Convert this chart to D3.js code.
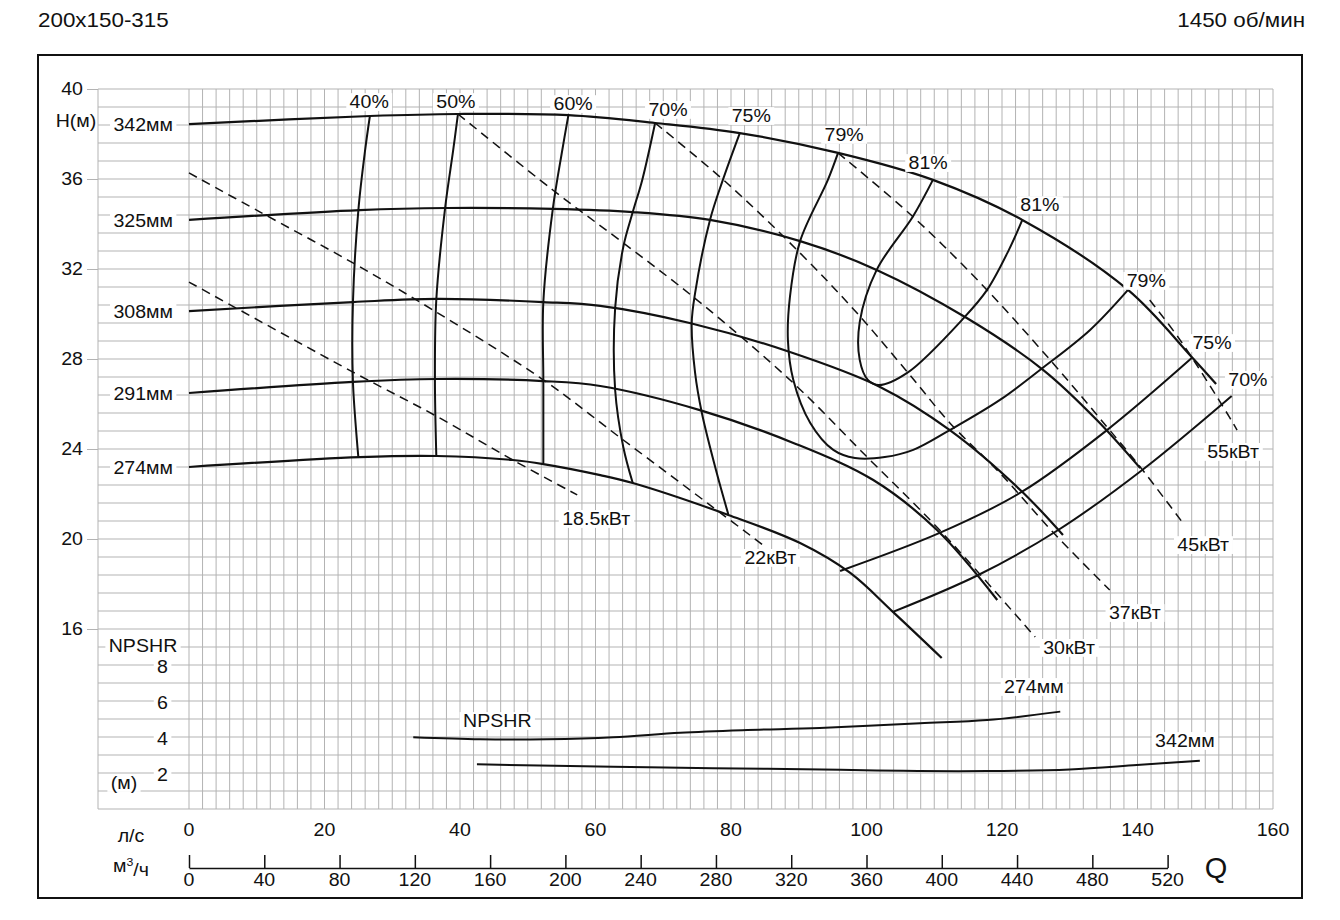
<!DOCTYPE html>
<html>
<head>
<meta charset="utf-8">
<script src="https://cdn.jsdelivr.net/npm/d3@7"></script>
<style>
  body { margin: 0; background: #fff; }
  text { font-family: "Liberation Sans", Arial, sans-serif; fill: #111; }
</style>
</head>
<body>
<script>
// axis ticks
const qTicks = [0, 20, 40, 60, 80, 100, 120, 140, 160];      // л/с
const m3hTicks = [0, 40, 80, 120, 160, 200, 240, 280, 320, 360, 400, 440, 480, 520];
const hTicks = [16, 20, 24, 28, 32, 36, 40];
const npshTicks = [2, 4, 6, 8];

// H-Q curves, [Q л/с, H м]
const hq342 = [[0,38.44],[26.7,38.80],[39.7,38.89],[56.0,38.84],[68.8,38.49],[81.3,38.04],[95.8,37.16],[109.8,35.96],[123.0,34.18],[138.6,31.07],[148.0,28.09],[151.6,26.89]];
const hq325 = [[0,34.18],[25.2,34.62],[38.1,34.71],[53.7,34.67],[65.5,34.53],[76.9,34.18],[90.2,33.24],[101.5,31.96],[114.8,29.82],[126.1,27.51],[134.0,25.29],[140.4,23.15]];
const hq308 = [[0,30.13],[24.2,30.53],[36.6,30.67],[52.3,30.53],[60.7,30.36],[73.9,29.60],[88.7,28.31],[102.0,26.76],[112.3,24.84],[122.7,22.18],[129.0,20.18]];
const hq291 = [[0,26.49],[24.2,26.98],[36.6,27.11],[52.3,27.02],[60.7,26.80],[75.4,25.73],[89.2,24.27],[101.0,22.62],[110.4,20.40],[119.3,17.29]];
const hq274 = [[0,23.20],[25.2,23.64],[36.6,23.69],[47.8,23.51],[52.3,23.33],[60.7,22.84],[65.5,22.49],[79.6,21.07],[90.2,19.82],[97.6,18.49],[103.9,16.76],[111.1,14.71]];
const diameters = ["342мм", "325мм", "308мм", "291мм", "274мм"];

// iso-efficiency curves
const eff40 = [[26.7,38.80],[26.0,37.29],[25.0,34.62],[24.2,30.53],[24.2,26.98],[25.0,23.64]];
const eff50 = [[39.7,38.89],[39.0,37.29],[37.8,34.71],[36.5,30.62],[36.3,27.11],[36.5,23.73]];
const eff60 = [[56.0,38.84],[55.1,37.29],[53.7,34.67],[52.3,30.53],[52.3,27.07],[52.3,23.38]];
const eff70 = [[68.8,38.49],[66.9,35.96],[65.5,34.53],[64.1,32.98],[62.9,30.27],[62.9,26.62],[64.1,24.09],[65.5,22.49]];
const eff75 = [[81.3,38.04],[78.8,35.96],[76.9,34.18],[74.7,30.93],[74.2,29.60],[74.7,27.38],[75.7,25.60],[77.9,22.93],[79.6,21.10]];
const eff79 = [[95.8,37.16],[94.3,35.96],[90.2,33.24],[88.7,30.76],[88.4,28.84],[89.2,27.07],[91.7,25.16],[95.1,23.96],[98.3,23.60],[102.7,23.64],[106.9,23.96],[112.3,24.84],[119.7,26.18],[125.6,27.51],[133.0,29.29],[138.6,31.07]];
const eff81 = [[109.8,35.96],[106.9,34.36],[101.5,31.96],[99.0,29.64],[99.0,27.96],[100.2,27.07],[101.8,26.84],[106.0,27.38],[114.5,29.87],[117.8,31.07],[121.0,32.84],[123.0,34.18]];
const eff75r = [[148.0,28.04],[135.5,24.84],[122.9,22.09],[110.8,20.27],[96.1,18.58]];
const eff70r = [[153.9,26.36],[140.7,23.07],[128.3,20.40],[116.5,18.40],[103.9,16.76]];
const effLabels = ["40%", "50%", "60%", "70%", "75%", "79%", "81%", "81%", "79%", "75%", "70%"];
const effLabelQ = [26.6, 39.4, 56.7, 70.7, 83.0, 96.7, 109.1, 125.6, 141.3, 151.0, 156.3];
const effLabelH = [39.42, 39.42, 39.33, 39.07, 38.80, 37.96, 36.71, 34.84, 31.47, 28.71, 27.07];

// power curves (dashed)
const p185 = [[0,31.42],[24.2,27.42],[37.0,25.38],[47.8,23.51],[57.3,21.96]];
const p22 = [[0,36.27],[10.5,34.53],[24.2,32.27],[36.0,30.18],[52.3,27.07],[64.1,24.40],[77.3,21.42],[85.3,19.60]];
const p30 = [[39.7,38.89],[53.7,35.51],[64.1,33.16],[75.0,30.62],[89.2,26.93],[100.1,23.64],[110.8,20.40],[124.9,15.64]];
const p37 = [[68.8,38.49],[79.4,35.82],[90.2,32.71],[98.6,30.04],[106.4,27.29],[112.3,25.16],[119.7,22.93],[127.5,20.31],[135.9,17.73]];
const p45 = [[95.8,37.16],[106.9,34.31],[116.8,31.38],[127.1,27.96],[135.5,24.98],[140.4,23.20],[146.7,20.71]];
const p55 = [[141.8,30.62],[146.3,28.84],[153.2,25.60],[154.7,24.84]];
const powerLabels = ["18.5кВт", "22кВт", "30кВт", "37кВт", "45кВт", "55кВт"];
const powerLabelQ = [60.1, 85.8, 129.9, 139.6, 149.7, 154.1];
const powerLabelH = [20.89, 19.16, 15.16, 16.71, 19.73, 23.87];

// NPSHR, [Q л/с, NPSHR м]
const npsh274 = [[33.1,3.98],[43.0,3.87],[52.8,3.87],[62.6,3.98],[72.5,4.24],[82.4,4.39],[93.1,4.50],[107.9,4.76],[117.8,4.94],[128.6,5.41]];
const npsh342 = [[42.5,2.48],[62.6,2.35],[77.3,2.27],[96.1,2.18],[105.4,2.12],[117.8,2.11],[130.0,2.20],[139.9,2.44],[149.2,2.68]];
const npshLabels = ["274мм", "342мм", "NPSHR"];
const npshLabelQ = [124.7, 147.0, 45.5];
const npshLabelN = [6.78, 3.78, 4.89];

const W = 1340, H = 920;
const FS = 17.5, SX = 1.12;

const svg = d3.select("body").append("svg").attr("width", W).attr("height", H);

const x = d3.scaleLinear().domain([0, 160]).range([189, 1273]);
const y = d3.scaleLinear().domain([8, 40]).range([809, 89]);
const yN = d3.scaleLinear().domain([0, 8]).range([809, 665]);
const gridLeft = 98;

// text helper, slightly widened like the original drawing
function label(g, px, py, str, anchor, bg, size) {
    const grp = g.append("g").attr("transform", `translate(${px},${py}) scale(${SX},1)`);
    const t = grp.append("text")
        .attr("text-anchor", anchor || "middle")
        .attr("dy", "0.35em")
        .style("font-size", (size || FS) + "px")
        .text(str);
    if (bg) {
        const b = t.node().getBBox();
        grp.insert("rect", "text")
            .attr("x", b.x - 3).attr("y", b.y + 1)
            .attr("width", b.width + 6).attr("height", b.height - 2)
            .attr("fill", "#fff");
    }
    return grp;
}

// titles
label(svg, 38, 20, "200x150-315", "start", false, 20);
label(svg, 1305, 20, "1450 об/мин", "end", false, 20);

// outer frame
svg.append("rect")
    .attr("x", 38).attr("y", 55).attr("width", 1264).attr("height", 843)
    .attr("fill", "none").attr("stroke", "#111").attr("stroke-width", 2);

// grid
const grid = svg.append("g").attr("stroke", "#b3b3b3").attr("stroke-width", 1);
const hLines = d3.range(0, 41).map(i => 8 + i * 0.8);
grid.selectAll("line.h").data(hLines).enter().append("line")
    .attr("x1", gridLeft).attr("x2", x(160))
    .attr("y1", d => y(d)).attr("y2", d => y(d));
const vLines = d3.range(0, 81).map(i => i * 2);
grid.selectAll("line.v").data(vLines).enter().append("line")
    .attr("x1", d => x(d)).attr("x2", d => x(d))
    .attr("y1", y(40)).attr("y2", y(8));
grid.append("line").attr("x1", gridLeft).attr("x2", gridLeft).attr("y1", y(40)).attr("y2", y(8));

// H axis
const hAxis = svg.append("g")
    .attr("transform", `translate(${gridLeft},0)`)
    .call(d3.axisLeft(y).tickValues(hTicks).tickSize(11).tickFormat(""));
hAxis.select(".domain").remove();
hAxis.selectAll(".tick line").attr("stroke", "#b3b3b3");
hTicks.forEach(v => label(svg, 83, y(v), String(v), "end"));
label(svg, 76, 121, "H(м)", "middle");

// curves
const line = d3.line().x(d => x(d[0])).y(d => y(d[1])).curve(d3.curveCatmullRom.alpha(0.5));
const lineN = d3.line().x(d => x(d[0])).y(d => yN(d[1])).curve(d3.curveCatmullRom.alpha(0.5));

const powerCurves = [p185, p22, p30, p37, p45, p55];
svg.append("g").selectAll("path").data(powerCurves).enter().append("path")
    .attr("d", line).attr("fill", "none").attr("stroke", "#111")
    .attr("stroke-width", 1.5).attr("stroke-dasharray", "9,6");

const effCurves = [eff40, eff50, eff60, eff70, eff75, eff79, eff81, eff75r, eff70r];
svg.append("g").selectAll("path").data(effCurves).enter().append("path")
    .attr("d", line).attr("fill", "none").attr("stroke", "#111").attr("stroke-width", 2);

const headCurves = [hq342, hq325, hq308, hq291, hq274];
svg.append("g").selectAll("path").data(headCurves).enter().append("path")
    .attr("d", line).attr("fill", "none").attr("stroke", "#111").attr("stroke-width", 2.2);

const npshCurves = [npsh274, npsh342];
svg.append("g").selectAll("path").data(npshCurves).enter().append("path")
    .attr("d", lineN).attr("fill", "none").attr("stroke", "#111").attr("stroke-width", 2);

// labels
const labels = svg.append("g");
headCurves.forEach((c, i) => label(labels, x(0) - 16, y(c[0][1]) + 1, diameters[i], "end", true));
effLabels.forEach((s, i) => label(labels, x(effLabelQ[i]), y(effLabelH[i]), s, "middle", true));
powerLabels.forEach((s, i) => label(labels, x(powerLabelQ[i]), y(powerLabelH[i]), s, "middle", true));
npshLabels.forEach((s, i) => label(labels, x(npshLabelQ[i]), yN(npshLabelN[i]), s, "middle", true));

// NPSHR axis
label(labels, 143, 646, "NPSHR", "middle", true);
npshTicks.forEach(v => label(labels, 168, yN(v) + 2, String(v), "end", true));
label(labels, 124, 783, "(м)", "middle", true);

// Q axis л/с
label(svg, 131, 836, "л/с", "middle");
qTicks.forEach(v => label(svg, x(v), 830, String(v), "middle"));

// Q axis м3/ч
const xM = d3.scaleLinear().domain([0, 520]).range([x(0), x(520 / 3.6)]);
const mAxis = svg.append("g")
    .attr("transform", "translate(0,868)")
    .call(d3.axisBottom(xM).tickValues(m3hTicks).tickSize(-13).tickSizeOuter(0).tickFormat(""));
mAxis.select(".domain").attr("stroke", "#111").attr("stroke-width", 1.5);
mAxis.selectAll(".tick line").attr("stroke", "#111").attr("stroke-width", 1.5);
m3hTicks.forEach(v => label(svg, xM(v), 880, String(v), "middle"));

const mu = svg.append("g").attr("transform", `translate(113,866) scale(${SX},1)`);
const mt = mu.append("text").attr("dy", "0.35em").style("font-size", FS + "px");
mt.append("tspan").text("м");
mt.append("tspan").attr("dy", "-0.55em").style("font-size", "11px").text("3");
mt.append("tspan").attr("dy", "0.55em").text("/ч");

svg.append("text").attr("x", 1216).attr("y", 868).attr("dy", "0.36em")
    .attr("text-anchor", "middle").style("font-size", "29px").text("Q");
</script>
</body>
</html>
